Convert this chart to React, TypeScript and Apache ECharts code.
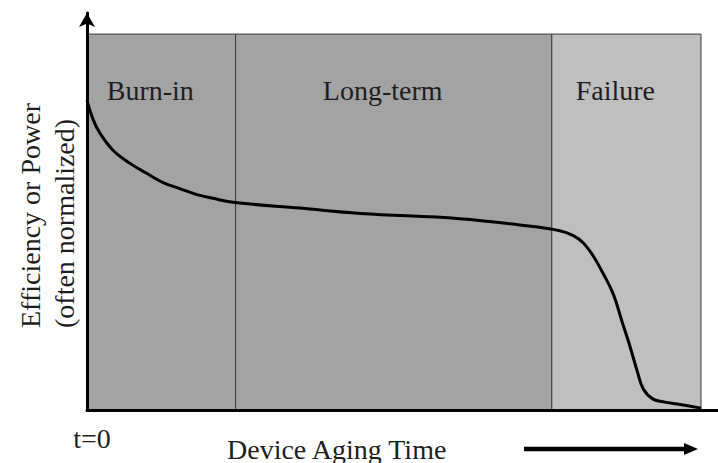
import React, { useEffect, useRef } from "react";
import * as echarts from "echarts";

// Curve: normalized time (0..100) vs normalized efficiency (0..100)
const timeValues = [0, 1.03, 2.12, 4.23, 7.0, 9.77, 12.4, 15.1, 17.9, 20.5, 24.1, 34.7, 44.5, 60.7, 70.5, 77.0, 79.2, 80.8, 82.4, 84.0, 85.7, 87.1, 88.4, 89.6, 90.6, 92.2, 94.1, 96.1, 100];
const efficiencyValues = [82.4, 77.1, 73.6, 69.1, 65.6, 62.9, 60.5, 58.9, 57.3, 56.3, 55.2, 53.7, 52.3, 50.9, 49.2, 47.7, 46.4, 44.5, 41.1, 36.5, 30.9, 23.7, 17.1, 10.4, 5.6, 2.9, 2.1, 1.6, 0.5];

// Stages
const stageNames = ["Burn-in", "Long-term", "Failure"];
const stageStarts = [0, 24.2, 75.7];
const stageEnds = [24.2, 75.7, 100];
const stageColors = ["#a3a3a3", "#a3a3a3", "#bfbfbf"];

const yTitleLines = ["Efficiency or Power", "(often normalized)"];
const xTitle = "Device Aging Time";
const originLabel = "t=0";

const FONT = "'Liberation Serif', 'DejaVu Serif', serif";

export default function App() {
  const ref = useRef<HTMLDivElement>(null);
  useEffect(() => {
    document.body.style.margin = "0";
    const chart = echarts.init(ref.current!, null, { renderer: "svg" });
    const data = timeValues.map((t, i) => [t, efficiencyValues[i]]);
    const areas = stageNames.map((n, i) => [
      {
        name: n,
        xAxis: stageStarts[i],
        yAxis: 0,
        itemStyle: { color: stageColors[i], borderColor: "#3a3a3a", borderWidth: 1 },
      },
      { xAxis: stageEnds[i], yAxis: 100 },
    ]);
    chart.setOption({
      animation: false,
      backgroundColor: "#ffffff",
      grid: { left: 87, right: 0, top: 13, bottom: 53 },
      xAxis: {
        type: "value",
        min: 0,
        max: 102.77,
        z: 5,
        axisLine: { show: true, lineStyle: { color: "#000", width: 3 } },
        axisTick: { show: false },
        axisLabel: { show: false },
        splitLine: { show: false },
      },
      yAxis: {
        type: "value",
        min: 0,
        max: 105.6,
        z: 5,
        axisLine: {
          show: true,
          symbol: ["none", "arrow"],
          symbolSize: [12, 14],
          symbolOffset: [0, 0],
          lineStyle: { color: "#000", width: 3 },
        },
        axisTick: { show: false },
        axisLabel: { show: false },
        splitLine: { show: false },
      },
      series: [
        {
          type: "line",
          data,
          smooth: 0.4,
          symbol: "none",
          lineStyle: { color: "#000", width: 3 },
          z: 3,
          markArea: {
            silent: true,
            label: {
              show: true,
              position: "insideTop",
              offset: [-11, 38],
              color: "#1e1e1e",
              fontFamily: FONT,
              fontSize: 28,
            },
            data: areas,
          },
        },
      ],
      graphic: [
        {
          type: "text",
          x: 30,
          y: 328,
          rotation: Math.PI / 2,
          style: { text: yTitleLines[0], fill: "#1e1e1e", font: `28px ${FONT}`, textAlign: "left", textVerticalAlign: "middle" },
        },
        {
          type: "text",
          x: 64,
          y: 328,
          rotation: Math.PI / 2,
          style: { text: yTitleLines[1], fill: "#1e1e1e", font: `28px ${FONT}`, textAlign: "left", textVerticalAlign: "middle" },
        },
        {
          type: "text",
          x: 92,
          y: 438,
          style: { text: originLabel, fill: "#1e1e1e", font: `28px ${FONT}`, textAlign: "center", textVerticalAlign: "middle" },
        },
        {
          type: "text",
          x: 227,
          y: 449,
          style: { text: xTitle, fill: "#1e1e1e", font: `28px ${FONT}`, textAlign: "left", textVerticalAlign: "middle" },
        },
        {
          type: "line",
          shape: { x1: 524, y1: 449, x2: 688, y2: 449 },
          style: { stroke: "#000", lineWidth: 4.5 },
        },
        {
          type: "polygon",
          shape: { points: [[684, 443], [698, 449], [684, 455]] },
          style: { fill: "#000" },
        },
      ],
    });
    return () => chart.dispose();
  }, []);
  return <div ref={ref} style={{ width: 718, height: 463 }} />;
}
